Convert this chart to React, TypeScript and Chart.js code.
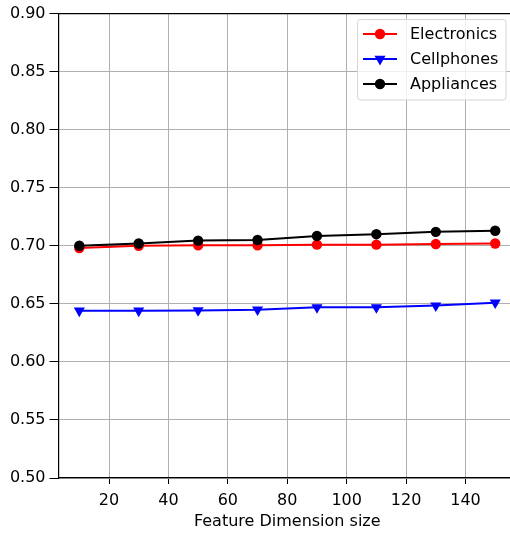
import React, { useEffect, useRef } from "react";
import { Chart, registerables } from "chart.js";

Chart.register(...registerables);

const featureDims = [10, 30, 50, 70, 90, 110, 130, 150];
const electronics = [0.698, 0.7, 0.7005, 0.7005, 0.701, 0.701, 0.7015, 0.702];
const cellphones = [0.644, 0.644, 0.6443, 0.645, 0.647, 0.647, 0.6485, 0.651];
const appliances = [0.7, 0.702, 0.7045, 0.705, 0.7085, 0.71, 0.712, 0.713];
const xTicks = [20, 40, 60, 80, 100, 120, 140];
const yTicks = [0.5, 0.55, 0.6, 0.65, 0.7, 0.75, 0.8, 0.85, 0.9];
const xLabel = "Feature Dimension size";
const seriesNames = ["Electronics", "Cellphones", "Appliances"];
const seriesColors = ["#ff0000", "#0000ff", "#000000"];
const seriesMarkers = ["circle", "triangle", "circle"];

const FONT = "'DejaVu Sans', sans-serif";

const framePlugin = {
  id: "frame",
  afterDraw(chart: any) {
    const { ctx, chartArea } = chart;
    ctx.save();
    // top spine
    ctx.strokeStyle = "#000";
    ctx.lineWidth = 1.2;
    ctx.beginPath();
    ctx.moveTo(chartArea.left, chartArea.top);
    ctx.lineTo(chartArea.right, chartArea.top);
    ctx.stroke();

    // legend
    const bx = 357.5, by = 19.5, bw = 148.5, bh = 80.5, r = 3;
    ctx.beginPath();
    ctx.moveTo(bx + r, by);
    ctx.lineTo(bx + bw - r, by);
    ctx.quadraticCurveTo(bx + bw, by, bx + bw, by + r);
    ctx.lineTo(bx + bw, by + bh - r);
    ctx.quadraticCurveTo(bx + bw, by + bh, bx + bw - r, by + bh);
    ctx.lineTo(bx + r, by + bh);
    ctx.quadraticCurveTo(bx, by + bh, bx, by + bh - r);
    ctx.lineTo(bx, by + r);
    ctx.quadraticCurveTo(bx, by, bx + r, by);
    ctx.closePath();
    ctx.fillStyle = "rgba(255,255,255,0.8)";
    ctx.fill();
    ctx.strokeStyle = "#d6d6d6";
    ctx.lineWidth = 1;
    ctx.stroke();

    ctx.font = `16px ${FONT}`;
    ctx.textBaseline = "middle";
    ctx.textAlign = "left";
    seriesNames.forEach((name, i) => {
      const y = 34 + i * 25;
      ctx.strokeStyle = seriesColors[i];
      ctx.lineWidth = 2;
      ctx.beginPath();
      ctx.moveTo(363, y);
      ctx.lineTo(397, y);
      ctx.stroke();
      ctx.fillStyle = seriesColors[i];
      ctx.beginPath();
      if (seriesMarkers[i] === "circle") {
        ctx.arc(380, y, 5.2, 0, Math.PI * 2);
      } else {
        const rr = 6.4;
        ctx.moveTo(380, y + rr);
        ctx.lineTo(380 - rr * 0.866, y - rr * 0.5);
        ctx.lineTo(380 + rr * 0.866, y - rr * 0.5);
        ctx.closePath();
      }
      ctx.fill();
      ctx.fillStyle = "#000";
      ctx.fillText(name, 410, y + 1);
    });
    ctx.restore();
  },
};

export default function App() {
  const ref = useRef<HTMLCanvasElement>(null);
  useEffect(() => {
    if (!ref.current) return;
    const datasets = [electronics, cellphones, appliances].map((vals, i) => ({
      label: seriesNames[i],
      data: featureDims.map((x, j) => ({ x, y: vals[j] })),
      borderColor: seriesColors[i],
      backgroundColor: seriesColors[i],
      borderWidth: 2,
      pointStyle: seriesMarkers[i] as any,
      pointRadius: seriesMarkers[i] === "circle" ? 5.2 : 6.4,
      pointRotation: seriesMarkers[i] === "triangle" ? 180 : 0,
      pointBorderWidth: 0,
      order: 3 - i,
      tension: 0,
    }));
    const chart = new Chart(ref.current, {
      type: "line",
      data: { datasets },
      plugins: [framePlugin],
      options: {
        animation: false,
        responsive: false,
        devicePixelRatio: 1,
        layout: { autoPadding: false, padding: { top: 12, right: 0, left: 0, bottom: 0 } },
        plugins: { legend: { display: false }, tooltip: { enabled: false } },
        scales: {
          x: {
            type: "linear",
            min: 3,
            max: 157,
            afterBuildTicks: (s: any) => {
              s.ticks = xTicks.map((v) => ({ value: v }));
            },
            afterFit: (s: any) => {
              s.height = 55;
            },
            ticks: {
              color: "#000",
              font: { family: FONT, size: 16 },
              padding: 7,
              maxRotation: 0,
              autoSkip: false,
            },
            grid: { color: "#b0b0b0", lineWidth: 1, tickLength: 6, tickColor: "#000" },
            border: { color: "#000", width: 1.2 },
            title: {
              display: true,
              text: xLabel,
              color: "#000",
              font: { family: FONT, size: 16 },
              padding: { top: 0, bottom: 2 },
            },
          },
          y: {
            type: "linear",
            min: 0.5,
            max: 0.9,
            afterBuildTicks: (s: any) => {
              s.ticks = yTicks.map((v) => ({ value: v }));
            },
            afterFit: (s: any) => {
              s.width = 58.5;
            },
            ticks: {
              color: "#000",
              font: { family: FONT, size: 16 },
              padding: 4,
              callback: (v: any) => Number(v).toFixed(2),
            },
            grid: { color: "#b0b0b0", lineWidth: 1, tickLength: 9, tickColor: "#000" },
            border: { color: "#000", width: 1.2 },
          },
        },
      },
    });
    return () => chart.destroy();
  }, []);
  return (
    <div style={{ position: "fixed", left: 0, top: 0, width: 510, height: 533, overflow: "hidden", background: "#fff" }}>
      <canvas ref={ref} width={516} height={533} style={{ display: "block" }} />
    </div>
  );
}
